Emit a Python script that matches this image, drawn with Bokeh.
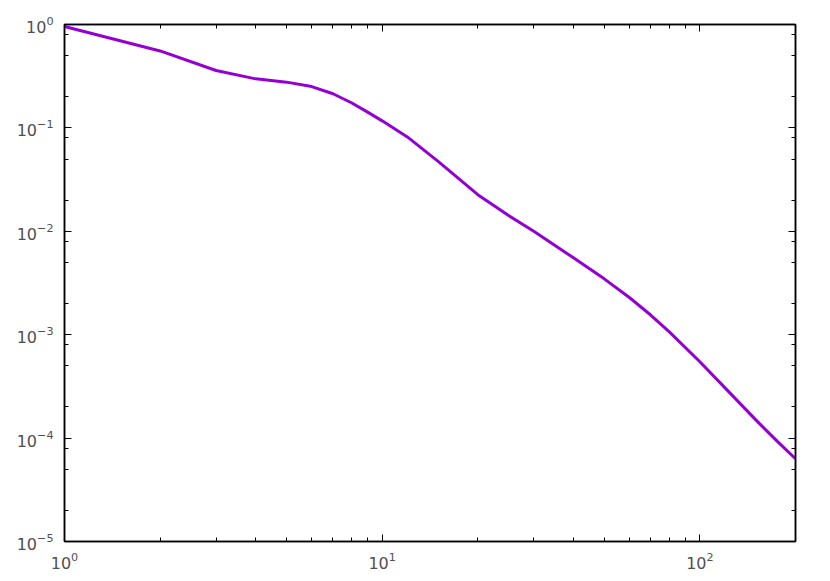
from bokeh.plotting import figure
from bokeh.models import LogAxis, FixedTicker
from bokeh.embed import file_html
from bokeh.resources import INLINE

# data
x_vals = [1, 2, 3, 4, 5, 6, 7, 8, 9, 10, 12, 15, 20, 25, 30, 40, 50, 60, 70, 80,
          100, 120, 150, 175, 200]
y_vals = [0.955, 0.555, 0.359, 0.298, 0.277, 0.251, 0.214, 0.175, 0.142, 0.117,
          0.0818, 0.0474, 0.0226, 0.0142, 0.0100, 0.00554, 0.00347, 0.00229,
          0.00155, 0.00107, 0.000547, 0.000306, 0.000150, 0.0000935, 0.0000631]

# tick positions
x_major = [1, 10, 100]
x_minor = [k * 10 ** e for e in (0, 1) for k in range(2, 10)] + [200]
y_major = [1e-5, 1e-4, 1e-3, 1e-2, 1e-1, 1]
y_minor = [k * 10.0 ** e for e in (-5, -4, -3, -2, -1) for k in (2, 5, 8)]

FONT = "DejaVu Sans"
LABEL_COLOR = "#505050"

p = figure(width=822, height=573, x_axis_type="log", y_axis_type="log",
           x_range=(1, 200), y_range=(1e-5, 1),
           output_backend="svg", toolbar_location=None,
           min_border_left=64, min_border_right=27,
           min_border_top=24, min_border_bottom=32)
p.grid.visible = False
p.outline_line_color = "black"
p.outline_line_width = 1.5
p.background_fill_color = "white"
p.border_fill_color = "white"

p.line(x_vals, y_vals, line_color="#9400D3", line_width=3)

bottom = p.below[0]
left = p.left[0]
top = LogAxis()
right = LogAxis()
p.add_layout(top, "above")
p.add_layout(right, "right")

for ax in [bottom, top]:
    ax.ticker = FixedTicker(ticks=x_major, minor_ticks=x_minor)
for ax in [left, right]:
    ax.ticker = FixedTicker(ticks=y_major, minor_ticks=y_minor)

for ax in [bottom, left, top, right]:
    ax.axis_line_color = "black"
    ax.axis_line_width = 1.5
    ax.major_tick_in = 7
    ax.major_tick_out = 0
    ax.minor_tick_in = 4
    ax.minor_tick_out = 0
    ax.major_tick_line_color = "black"
    ax.minor_tick_line_color = "black"
    ax.major_tick_line_width = 1
    ax.minor_tick_line_width = 1
    ax.major_label_text_font = FONT
    ax.major_label_text_font_size = "16px"
    ax.major_label_text_color = LABEL_COLOR

for ax in [top, right]:
    ax.major_label_text_font_size = "2px"
    ax.major_label_text_alpha = 0
    ax.major_label_standoff = 0

bottom.major_label_standoff = 10
left.major_label_standoff = 11

open("out.html", "w").write(file_html(p, INLINE))
